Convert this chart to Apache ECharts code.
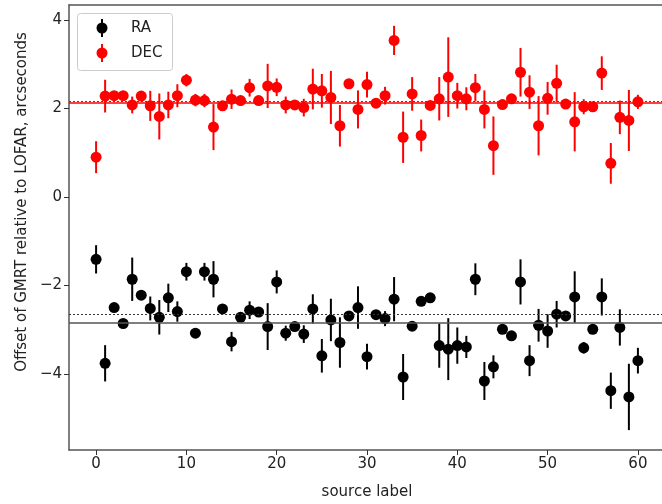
<!DOCTYPE html>
<html>
<head>
<meta charset="utf-8">
<script src="https://cdn.jsdelivr.net/npm/echarts@6/dist/echarts.min.js"></script>
<style>html,body{margin:0;padding:0;background:#fff;overflow:hidden}#c{width:662px;height:504px}</style>
</head>
<body>
<div id="c"></div>
<script>
// source labels 0..60
const sourceLabels = [0,1,2,3,4,5,6,7,8,9,10,11,12,13,14,15,16,17,18,19,20,21,22,23,24,25,26,27,28,29,30,31,32,33,34,35,36,37,38,39,40,41,42,43,44,45,46,47,48,49,50,51,52,53,54,55,56,57,58,59,60];
const raValues = [-1.41,-3.76,-2.50,-2.86,-1.86,-2.22,-2.52,-2.72,-2.28,-2.59,-1.69,-3.08,-1.69,-1.86,-2.53,-3.27,-2.72,-2.56,-2.60,-2.93,-1.92,-3.08,-2.93,-3.10,-2.53,-3.59,-2.78,-3.29,-2.69,-2.50,-3.61,-2.66,-2.75,-2.31,-4.07,-2.92,-2.36,-2.28,-3.36,-3.44,-3.36,-3.39,-1.86,-4.16,-3.84,-2.99,-3.14,-1.92,-3.70,-2.90,-3.03,-2.65,-2.69,-2.26,-3.41,-2.99,-2.26,-4.38,-2.95,-4.52,-3.70];
const raErrors = [0.32,0.41,0.08,0.08,0.49,0.08,0.27,0.39,0.32,0.23,0.20,0.08,0.20,0.41,0.08,0.22,0.08,0.20,0.08,0.53,0.26,0.17,0.08,0.20,0.33,0.38,0.48,0.57,0.08,0.48,0.29,0.08,0.17,0.50,0.52,0.08,0.08,0.08,0.50,0.70,0.41,0.25,0.36,0.43,0.26,0.08,0.08,0.51,0.35,0.37,0.38,0.30,0.08,0.58,0.13,0.08,0.42,0.41,0.41,0.75,0.29];
const decValues = [0.90,2.28,2.29,2.29,2.08,2.28,2.06,1.82,2.08,2.29,2.64,2.19,2.18,1.58,2.06,2.21,2.18,2.47,2.18,2.51,2.48,2.08,2.08,2.02,2.44,2.40,2.25,1.61,2.56,1.98,2.54,2.12,2.29,3.54,1.35,2.33,1.39,2.07,2.22,2.71,2.29,2.22,2.47,1.98,1.16,2.09,2.22,2.82,2.37,1.61,2.23,2.57,2.10,1.70,2.04,2.04,2.80,0.76,1.80,1.73,2.15];
const decErrors = [0.36,0.37,0.08,0.08,0.19,0.08,0.34,0.52,0.30,0.26,0.14,0.14,0.15,0.52,0.08,0.22,0.08,0.20,0.08,0.50,0.20,0.19,0.08,0.20,0.46,0.38,0.60,0.47,0.08,0.43,0.29,0.11,0.20,0.33,0.58,0.38,0.36,0.08,0.49,0.90,0.29,0.26,0.31,0.43,0.66,0.08,0.08,0.55,0.38,0.67,0.37,0.42,0.08,0.67,0.17,0.08,0.38,0.46,0.38,0.69,0.16];
const raMean = -2.84, raMedian = -2.65;
const decMean = 2.13, decMedian = 2.17;
const xTicks = [0,10,20,30,40,50,60];
const yTicks = [-4,-2,0,2,4];
const legendNames = ['RA','DEC'];

const FONT = 'DejaVu Sans';
const fmt = v => String(v).replace('-', '\u2212');

function errData(vals, errs){ return sourceLabels.map((x,i)=>[x, vals[i], errs[i]]); }
function ptData(vals){ return sourceLabels.map((x,i)=>[x, vals[i]]); }
function errRender(color){
  return function(params, api){
    const x = api.value(0), y = api.value(1), e = api.value(2);
    const p1 = api.coord([x, y - e]), p2 = api.coord([x, y + e]);
    return {type:'line', shape:{x1:p1[0],y1:p1[1],x2:p2[0],y2:p2[1]}, style:{stroke:color, lineWidth:2}};
  };
}
function hline(v, color, dotted, width){
  return {silent:true, symbol:'none', label:{show:false},
    lineStyle:{color:color, type: dotted ? [2,2] : 'solid', width: width},
    data:[{yAxis:v}]};
}

const chart = echarts.init(document.getElementById('c'), null, {renderer:'canvas'});
chart.setOption({
  animation:false,
  grid:{left:69, top:5, width:596, height:445, show:false, outerBoundsMode:'none', containLabel:false},
  xAxis:[{type:'value', min:-3, max:63, splitLine:{show:false},
    axisLine:{show:true, onZero:false, lineStyle:{color:'#555', width:1.5}},
    axisTick:{show:true, customValues:xTicks, length:5, lineStyle:{color:'#333', width:1}},
    axisLabel:{customValues:xTicks, color:'#222', fontFamily:FONT, fontSize:15, margin:7, formatter:fmt},
    name:'source label', nameLocation:'middle', nameGap:35,
    nameTextStyle:{color:'#222', fontFamily:FONT, fontSize:15}},
    {type:'value', position:'top', min:-3, max:63, splitLine:{show:false},
    axisLine:{show:true, onZero:false, lineStyle:{color:'#555', width:1.5}},
    axisTick:{show:false}, axisLabel:{show:false}}],
  yAxis:{type:'value', min:-5.72, max:4.34, splitLine:{show:false}, splitArea:{show:false},
    axisLine:{show:true, onZero:false, lineStyle:{color:'#555', width:1.5}},
    axisTick:{show:true, customValues:yTicks, length:5, lineStyle:{color:'#333', width:1}},
    axisLabel:{customValues:yTicks, color:'#222', fontFamily:FONT, fontSize:15, margin:7, formatter:fmt}},
  graphic:[
    {type:'text', x:22, y:202, rotation:Math.PI/2, style:{text:'Offset of GMRT relative to LOFAR, arcseconds', fill:'#222', font:'15px "DejaVu Sans"', align:'center', verticalAlign:'middle'}},
    {type:'rect', left:77, top:13, shape:{width:95, height:57, r:3}, style:{fill:'rgba(255,255,255,0.85)', stroke:'#ccc', lineWidth:1}, z:100},
    {type:'line', shape:{x1:102,y1:19,x2:102,y2:37}, style:{stroke:'#000', lineWidth:2}, z:101},
    {type:'circle', shape:{cx:102, cy:28, r:5.5}, style:{fill:'#000'}, z:101},
    {type:'text', x:131, y:28, style:{text:legendNames[0], fill:'#222', font:'15px "DejaVu Sans"', verticalAlign:'middle'}, z:101},
    {type:'line', shape:{x1:102,y1:44,x2:102,y2:62}, style:{stroke:'#f00', lineWidth:2}, z:101},
    {type:'circle', shape:{cx:102, cy:53, r:5.5}, style:{fill:'#f00'}, z:101},
    {type:'text', x:131, y:53, style:{text:legendNames[1], fill:'#222', font:'15px "DejaVu Sans"', verticalAlign:'middle'}, z:101}
  ],
  series:[
    {type:'custom', name:'RA err', data:errData(raValues, raErrors), renderItem:errRender('#000'), encode:{x:0,y:1}, z:3,
      markLine:hline(raMean, '#555', false, 1.5)},
    {type:'custom', name:'DEC err', data:errData(decValues, decErrors), renderItem:errRender('#f00'), encode:{x:0,y:1}, z:3,
      markLine:hline(decMean, '#f00', false, 1.5)},
    {type:'custom', name:'RA med', data:[], renderItem:function(){return null;}, markLine:hline(raMedian, '#333', true, 1.2)},
    {type:'custom', name:'DEC med', data:[], renderItem:function(){return null;}, markLine:hline(decMedian, '#f00', true, 1.2)},
    {type:'scatter', name:legendNames[0], data:ptData(raValues), symbol:'circle', symbolSize:11, itemStyle:{color:'#000', opacity:1}, z:4},
    {type:'scatter', name:legendNames[1], data:ptData(decValues), symbol:'circle', symbolSize:11, itemStyle:{color:'#f00', opacity:1}, z:4}
  ]
});
</script>
</body>
</html>
